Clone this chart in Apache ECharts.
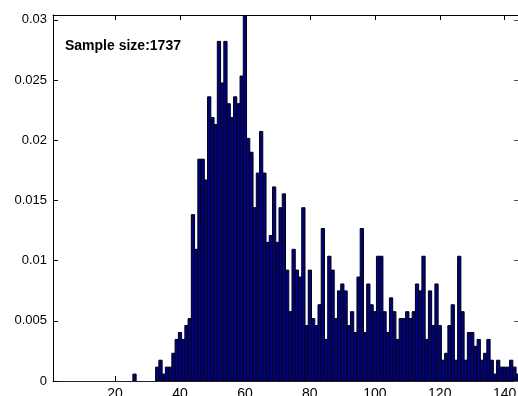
<!DOCTYPE html>
<html>
<head>
<meta charset="utf-8">
<script src="https://cdn.jsdelivr.net/npm/echarts@6/dist/echarts.min.js"></script>
<style>
  html, body { margin: 0; padding: 0; background: #fff; }
  #chart { width: 518px; height: 396px; }
</style>
</head>
<body>
<div id="chart"></div>
<script>
// Histogram of 1737 observations, one bin per unit, shown as relative frequency.
var sampleSize = 1737;

// Bin centres (bins not listed are empty)
var binCenters = [
  26,
  33, 34, 35, 36, 37, 38, 39, 40, 41, 42, 43, 44, 45,
  46, 47, 48, 49, 50, 51, 52, 53, 54, 55, 56, 57, 58, 59, 60,
  61, 62, 63, 64, 65, 66, 67, 68, 69, 70, 71, 72,
  73, 74, 75, 76, 77, 78, 79, 80, 81, 82, 83, 84, 85, 86, 87, 88,
  89, 90, 91, 92, 93, 94, 95, 96, 97, 98, 99, 100, 101, 102, 103, 104, 105, 106, 107,
  108, 109, 110, 111, 112, 113, 114, 115, 116, 117, 118, 119, 120, 121, 122, 123, 124, 125, 126, 127, 128,
  129, 130, 131, 132, 133, 134, 135, 136, 137, 138, 139, 140, 141, 142, 143, 144
];

// Observations falling in each bin
var binCounts = [
  1,
  2, 3, 1, 2, 2, 4, 6, 7, 6, 8, 9, 24, 19,
  32, 32, 29, 41, 38, 37, 49, 43, 49, 40, 38, 41, 40, 44, 53,
  35, 33, 25, 30, 36, 30, 20, 21, 28, 20, 25, 27,
  16, 10, 19, 16, 15, 25, 8, 16, 9, 8, 11, 22, 6, 18, 16, 9,
  13, 14, 13, 8, 10, 7, 15, 22, 7, 14, 11, 10, 18, 18, 10, 7, 12, 10, 6,
  9, 9, 10, 9, 10, 14, 13, 18, 6, 13, 8, 14, 8, 3, 4, 8, 11, 3, 18, 10, 3,
  7, 7, 5, 6, 3, 4, 6, 3, 1, 3, 2, 2, 2, 3, 2, 1
];

var xTicks = [20, 40, 60, 80, 100, 120, 140];
var yTicks = [0, 0.005, 0.01, 0.015, 0.02, 0.025, 0.03];
var xRange = [0.9, 144.4];
var yRange = [0, 0.0304];

var annotation = 'Sample size:' + sampleSize;

var barData = binCenters.map(function (c, i) {
  return [c, binCounts[i] / sampleSize];
});

var fontFamily = '"Liberation Sans", Arial, Helvetica, sans-serif';

function fmtY(v) {
  return String(Number(v.toFixed(3)));
}

function frameAxis(base) {
  return Object.assign({
    type: 'value',
    axisLine: { show: true, onZero: false, lineStyle: { color: '#000', width: 1 } },
    axisTick: { show: true, inside: true, length: 5, lineStyle: { color: '#000', width: 1 } },
    splitLine: { show: false }
  }, base);
}

var chart = echarts.init(document.getElementById('chart'), null, { renderer: 'canvas' });

chart.setOption({
  animation: false,
  backgroundColor: '#fff',
  grid: { left: 53, right: -1, top: 15, bottom: 15, containLabel: false, outerBoundsMode: 'none' },
  title: {
    text: annotation,
    left: 65,
    top: 39,
    padding: 0,
    textStyle: { fontFamily: fontFamily, fontSize: 14, fontWeight: 'bold', color: '#000' }
  },
  xAxis: [
    frameAxis({
      position: 'bottom',
      min: xRange[0], max: xRange[1],
      axisLine: { show: true, onZero: false, lineStyle: { color: '#222', width: 1 } },
      axisTick: { show: true, inside: true, length: 5, customValues: xTicks, lineStyle: { color: '#000' } },
      axisLabel: {
        show: true, customValues: xTicks, margin: 6,
        fontFamily: fontFamily, fontSize: 14, color: '#000'
      }
    }),
    frameAxis({
      position: 'top',
      min: xRange[0], max: xRange[1],
      axisTick: { show: true, inside: true, length: 5, customValues: xTicks, lineStyle: { color: '#000' } },
      axisLabel: { show: false }
    })
  ],
  yAxis: [
    frameAxis({
      position: 'left',
      min: yRange[0], max: yRange[1],
      axisTick: { show: true, inside: true, length: 5, customValues: yTicks, lineStyle: { color: '#000' } },
      axisLabel: {
        show: true, customValues: yTicks, margin: 6,
        fontFamily: fontFamily, fontSize: 13, color: '#000',
        formatter: fmtY
      }
    }),
    frameAxis({
      position: 'right',
      min: yRange[0], max: yRange[1],
      axisTick: { show: true, inside: true, length: 5, customValues: yTicks, lineStyle: { color: '#555' } },
      axisLabel: { show: false }
    })
  ],
  series: [{
    type: 'custom',
    xAxisIndex: 0,
    yAxisIndex: 0,
    clip: true,
    data: barData,
    encode: { x: 0, y: 1 },
    renderItem: function (params, api) {
      var c = api.value(0);
      var f = api.value(1);
      var topLeft = api.coord([c - 0.5, f]);
      var bottomRight = api.coord([c + 0.5, 0]);
      return {
        type: 'rect',
        shape: {
          x: topLeft[0],
          y: topLeft[1],
          width: bottomRight[0] - topLeft[0],
          height: bottomRight[1] - topLeft[1]
        },
        style: { fill: '#00008f', stroke: '#000', lineWidth: 1 }
      };
    }
  }]
});
</script>
</body>
</html>
